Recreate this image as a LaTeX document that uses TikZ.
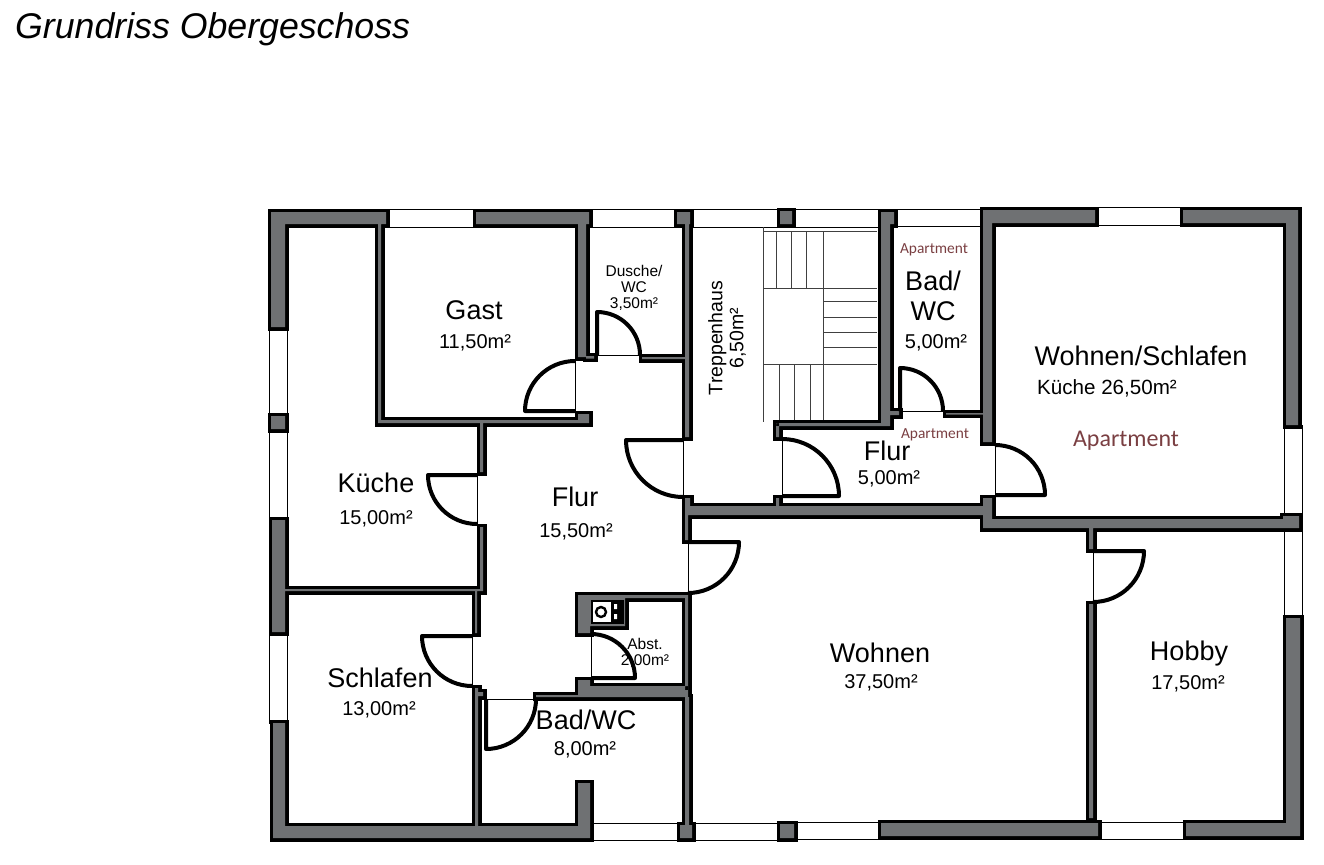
\documentclass[tikz,border=0pt]{standalone}
\usepackage{fontspec}
\setmainfont{Liberation Sans}
\newfontfamily\aptfont{Carlito}
\definecolor{wallgrey}{HTML}{6F7173}
\definecolor{aptred}{HTML}{7A3F42}
\tikzset{
roomname/.style={inner sep=0pt,font=\fontsize{27}{27}\selectfont},
roomsize/.style={inner sep=0pt,font=\fontsize{20}{20}\selectfont},
smalltext/.style={inner sep=0pt,align=center,font=\fontsize{15.5}{16}\selectfont},
aptlabel/.style={inner sep=0pt,text=aptred,font=\aptfont\fontsize{15.4}{15.4}\selectfont},
sill/.style={line width=1pt},
stair/.style={line width=0.9pt,black!75},
doorleaf/.style={line width=4pt,line join=round}
}
\newcommand{\wallshape}{
(271,212) -- (386,212) -- (386,224) -- (285,224) -- (285,327) -- (271,327) -- cycle
(378,224) rectangle (381,423)
(378,420) rectangle (589,423)
(578,414) rectangle (589,423)
(476,212) -- (589,212) -- (589,224) -- (586,224) -- (586,357) -- (578,357) -- (578,224) -- (476,224) -- cycle
(586,356) rectangle (594,358.5)
(642,357) rectangle (685,359)
(677,212) rectangle (690,224)
(685,224) rectangle (689,437)
(685,498) -- (690,498) -- (690,506) -- (983,506) -- (983,498) -- (992,498) -- (992,519) -- (1283,519) -- (1283,516) -- (1299,516) -- (1299,528) -- (983,528) -- (983,515) -- (688,515) -- (688,540) -- (685,540) -- cycle
(1089,528) rectangle (1093,549)
(1089,604) rectangle (1093,818)
(780,211) rectangle (792,224)
(881,212) -- (894,212) -- (894,224) -- (890,224) -- (890,426) -- (776,426) -- (776,423) -- (881,423) -- cycle
(890,411) rectangle (899,415)
(776,423) rectangle (779,437)
(776,498) rectangle (779,506)
(983,210) -- (1095,210) -- (1095,223) -- (992,223) -- (992,442) -- (983,442) -- cycle
(946,413) rectangle (983,414.5)
(1183,210) -- (1298,210) -- (1298,425) -- (1286,425) -- (1286,223) -- (1183,223) -- cycle
(1186,823) -- (1286,823) -- (1286,618) -- (1300,618) -- (1300,836) -- (1186,836) -- cycle
(881,823) rectangle (1098,836)
(780,824) rectangle (794,838)
(273,723) -- (285,723) -- (285,826) -- (578,826) -- (578,783) -- (590,783) -- (590,838) -- (273,838) -- cycle
(272,520) rectangle (285,632)
(271,416) rectangle (285,429)
(285,589) rectangle (483,591)
(480,423) rectangle (483,472)
(480,527) rectangle (483,591)
(475,591) rectangle (477,633)
(475,688) rectangle (478,826)
(478,692) rectangle (483,696)
(578,595) -- (685,595) -- (685,598) -- (625,598) -- (625,626) -- (590,626) -- (590,633) -- (578,633) -- cycle
(685,595) rectangle (688,690)
(578,680) -- (590,680) -- (590,686) -- (688,686) -- (688,697) -- (536,697) -- (536,695) -- (578,695) -- cycle
(685,697) rectangle (689,825)
(680,825) rectangle (692,838)
}

\begin{document}
\begin{tikzpicture}[x=1pt,y=-1pt]
\useasboundingbox (0,0) rectangle (1324,864);
\node[anchor=base west,inner sep=0pt,font=\itshape\fontsize{35.7}{36}\selectfont] (title) at (15,39) {Grundriss Obergeschoss};
% windows
\foreach \xa/\ya/\xb/\yb in {386/209/476/227,589/209/677/227,690/209/780/227,792/209/881/227,894/209/983/226,1095/207/1183/225,
1284/425/1302/516,1284/528/1302/618,1098/822/1186/839,794/822/881/839,690/823/780/840,590/823/680/840,
269/327/287/416,269/429/287/520,269/632/287/723}
{\draw[sill] (\xa,\ya) rectangle (\xb,\yb);}
% stairs
\draw[stair] (763,227) -- (763,422) (823,231) -- (823,422) (763,231) -- (877,231);
\foreach \sx in {776,791,806} {\draw[stair] (\sx,231) -- (\sx,288);}
\foreach \sx in {779,794,810} {\draw[stair] (\sx,364) -- (\sx,422);}
\foreach \sy in {288,301,317,332,347,364} {\draw[stair] (823,\sy) -- (877,\sy);}
\draw[stair] (763,288) -- (823,288) (763,364) -- (823,364);
% walls
\draw[line width=7pt,line join=miter] \wallshape;
\fill[wallgrey] \wallshape;
% stove
\fill (591,600) rectangle (624,624);
\fill[white] (593,602) rectangle (611,622);
\draw[line width=2.4pt] (601,612) circle (5);
\fill[white] (614,604) rectangle (617,609) (614,614) rectangle (617,619);
% doors
\foreach \hx/\hy/\rr/\sa/\ea in {575/411/50/180/270,597/355/43/270/360,683/440/57/180/90,477/475/49/180/90,688/542/51/0/90,
1093/551/51/0/90,472/636/50/180/90,486/699/50/90/0,591/678/44/0/-90,900/411/43/270/360,782/496/57/0/-90,995/495/50/0/-90}
{
\draw[doorleaf] (\hx,\hy) -- ++(\sa:\rr) arc[start angle=\sa,end angle=\ea,radius=\rr];
\draw[sill] (\hx,\hy) -- ++(\ea:\rr);
}
% labels
\node[roomname] (gast) at (474,310) {Gast};
\node[roomsize] (gastsize) at (475,343) {11,50m²};
\node[smalltext] (dusche) at (634,288) {Dusche/\\WC\\3,50m²};
\node[inner sep=0pt,align=center,rotate=90,font=\fontsize{19.5}{21}\selectfont] (treppe) at (727,338) {Treppenhaus\\6,50m²};
\node[aptlabel] (aptbad) at (934,250) {Apartment};
\node[roomname,align=center,font=\fontsize{27}{30}\selectfont] (badapt) at (933,296) {Bad/\\WC};
\node[roomsize] (badaptsize) at (936,343) {5,00m²};
\node[aptlabel] (aptflur) at (935,435) {Apartment};
\node[roomname] (flurapt) at (887,451) {Flur};
\node[roomsize] (fluraptsize) at (889,479) {5,00m²};
\node[roomname] (wohnschlaf) at (1141,356) {Wohnen/Schlafen};
\node[inner sep=0pt,font=\fontsize{20.6}{20.6}\selectfont] (wohnschlafsize) at (1107,388) {Küche 26,50m²};
\node[aptlabel,font=\aptfont\fontsize{24}{24}\selectfont] (aptwohn) at (1126,441) {Apartment};
\node[roomname] (kueche) at (376,483) {Küche};
\node[roomsize] (kuechesize) at (376,519) {15,00m²};
\node[roomname] (flur) at (575,497) {Flur};
\node[roomsize] (flursize) at (576,532) {15,50m²};
\node[roomname] (schlafen) at (380,678) {Schlafen};
\node[roomsize] (schlafensize) at (379,710) {13,00m²};
\node[roomname] (wohnen) at (880,653) {Wohnen};
\node[roomsize] (wohnensize) at (881,683) {37,50m²};
\node[roomname] (hobby) at (1189,654) {Hobby};
\node[roomsize] (hobbysize) at (1188,684) {17,50m²};
\node[roomname] (bad) at (586,720) {Bad/WC};
\node[roomsize] (badsize) at (585,750) {8,00m²};
\node[smalltext] (abst) at (645,653) {Abst.\\2,00m²};
\end{tikzpicture}
\end{document}
